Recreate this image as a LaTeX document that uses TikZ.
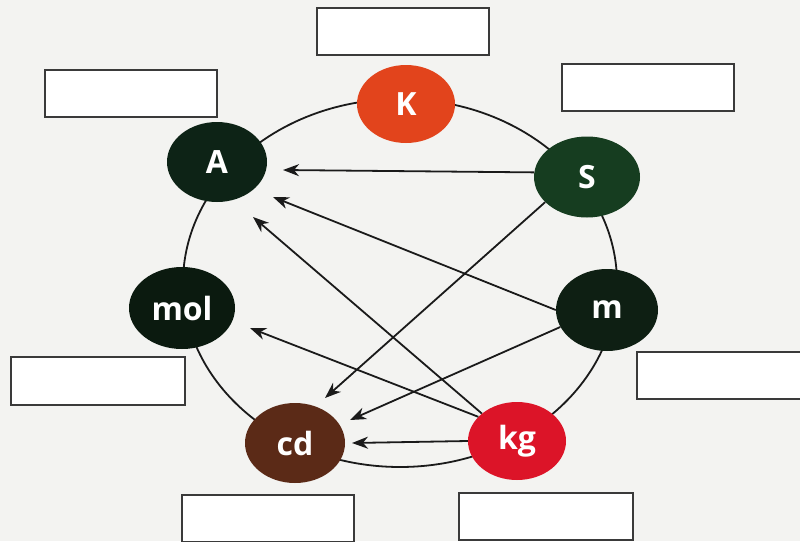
\documentclass[tikz,border=0pt]{standalone}
\usepackage{fontspec}
\setmainfont{Open Sans}
\usetikzlibrary{arrows.meta,shapes.geometric}
\definecolor{bgc}{HTML}{F3F3F1}
\definecolor{cK}{HTML}{E2441C}
\definecolor{cA}{HTML}{0D2316}
\definecolor{cS}{HTML}{163D20}
\definecolor{cmol}{HTML}{0B1A0F}
\definecolor{cm}{HTML}{0E1F13}
\definecolor{ccd}{HTML}{5B2A17}
\definecolor{ckg}{HTML}{DC1428}
\definecolor{lnc}{HTML}{1A1A1A}
\definecolor{boxc}{HTML}{3A3A3A}
\tikzset{
  unit/.style={ellipse, inner sep=0pt, text=white, font=\fontsize{32}{32}\selectfont\bfseries},
  answerbox/.style={draw=boxc, line width=2pt, fill=white!97!bgc, minimum width=172pt, minimum height=47pt, inner sep=0pt},
  ring/.style={draw=lnc, line width=1.8pt},
  arr/.style={draw=lnc, line width=1.8pt, -{Stealth[length=16pt,width=12pt,inset=5pt]}}
}
\begin{document}
\begin{tikzpicture}[x=1pt,y=-1pt]
\useasboundingbox (0,0) rectangle (800,541);
\clip (0,0) rectangle (800,541);
\fill[bgc] (0,0) rectangle (800,541);
% answer boxes
\node[answerbox] (b1) at (403,31.5) {};
\node[answerbox] (b2) at (131,93) {};
\node[answerbox] (b3) at (648,87.5) {};
\node[answerbox, minimum width=174pt, minimum height=48pt] (b4) at (98,381) {};
\node[answerbox, minimum width=173pt] (b5) at (723.5,375.5) {};
\node[answerbox] (b6) at (268,518) {};
\node[answerbox, minimum width=174pt] (b7) at (546,516.5) {};
% ring
\draw[ring] (400,283) ellipse [x radius=217pt, y radius=184pt];
% units
\node[unit, fill=cK, minimum width=98pt, minimum height=78pt] (K) at (406,104) {K};
\node[unit, fill=cA, minimum width=100pt, minimum height=80pt] (A) at (217,162) {A};
\node[unit, fill=cS, minimum width=106pt, minimum height=81pt] (S) at (587,177) {S};
\node[unit, fill=cmol, minimum width=106pt, minimum height=82pt] (mol) at (182,308) {mol};
\node[unit, fill=cm, minimum width=102pt, minimum height=82pt] (m) at (607,310) {m};
\node[unit, fill=ccd, minimum width=100pt, minimum height=80pt] (cd) at (295,443) {cd};
\node[unit, fill=ckg, minimum width=98pt, minimum height=78pt] (kg) at (517,441) {kg};
% arrow tips
\coordinate (tSA) at (283,170);
\coordinate (tmA) at (273,197);
\coordinate (tkgA) at (253,217);
\coordinate (tkgmol) at (250,328);
\coordinate (tScd) at (325,398);
\coordinate (tmcd) at (350,420);
\coordinate (tkgcd) at (352,443);
% arrows
\draw[arr] (S.175) -- (tSA);
\draw[arr] (m.west) -- (tmA);
\draw[arr] (kg.142) -- (tkgA);
\draw[arr] (kg.148) -- (tkgmol);
\draw[arr] (S.211) -- (tScd);
\draw[arr] (m.200) -- (tmcd);
\draw[arr] (kg.180) -- (tkgcd);
\end{tikzpicture}
\end{document}
